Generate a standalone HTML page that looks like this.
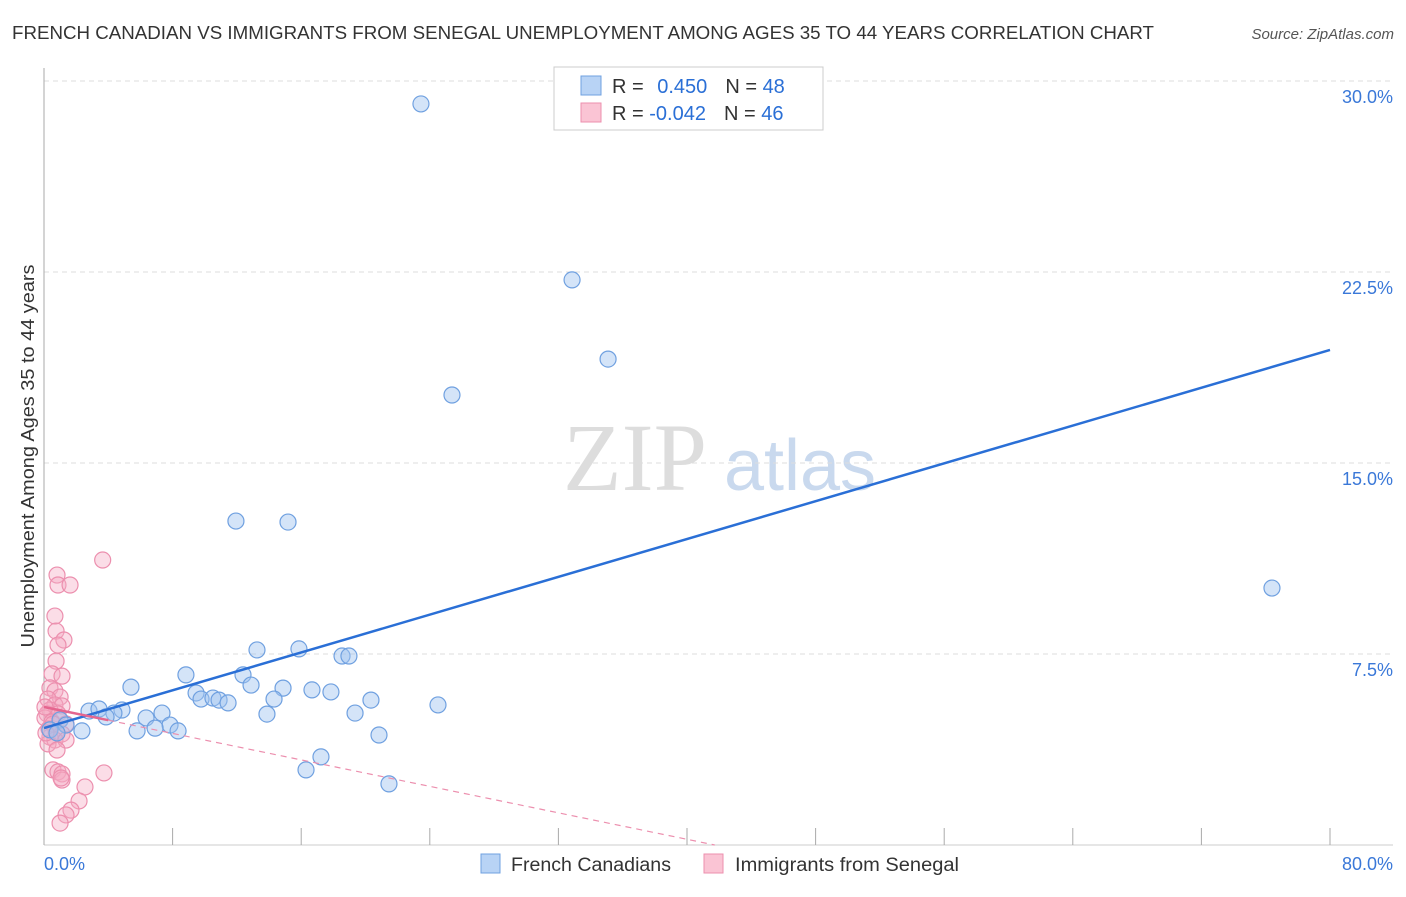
<!DOCTYPE html>
<html><head><meta charset="utf-8"><style>
body{margin:0;background:#fff;font-family:"Liberation Sans",sans-serif}
</style></head><body>
<svg id="c" width="1406" height="892" xmlns="http://www.w3.org/2000/svg" style="font-family:'Liberation Sans',sans-serif">
<text x="12" y="39" font-size="18" fill="#333" textLength="1142" lengthAdjust="spacingAndGlyphs">FRENCH CANADIAN VS IMMIGRANTS FROM SENEGAL UNEMPLOYMENT AMONG AGES 35 TO 44 YEARS CORRELATION CHART</text>
<text x="1394" y="39" font-size="15" fill="#555" text-anchor="end" font-style="italic">Source: ZipAtlas.com</text>
<text x="635" y="490" font-size="96" fill="#ddd" text-anchor="middle" font-family="Liberation Serif">ZIP</text>
<text x="800" y="490" font-size="72" fill="#c9d9ee" text-anchor="middle">atlas</text>
<text transform="translate(34,456) rotate(-90)" font-size="18" fill="#333" text-anchor="middle" textLength="383" lengthAdjust="spacingAndGlyphs">Unemployment Among Ages 35 to 44 years</text>
<g id="grid"></g><g id="pts"></g><g id="lines"></g>
<g>
<rect x="554" y="67" width="269" height="63" fill="#fff" stroke="#ccc"/>
<rect x="581" y="76" width="20" height="19" fill="#b8d3f5" stroke="#6fa0e0"/>
<rect x="581" y="103" width="20" height="19" fill="#fac4d4" stroke="#ec8fae"/>
<text x="612" y="93" font-size="20" fill="#333">R = <tspan fill="#2a6fd6" dx="8">0.450</tspan><tspan dx="18" fill="#333">N = </tspan><tspan fill="#2a6fd6">48</tspan></text>
<text x="612" y="120" font-size="20" fill="#333">R = <tspan fill="#2a6fd6">-0.042</tspan><tspan dx="18" fill="#333">N = </tspan><tspan fill="#2a6fd6">46</tspan></text>
</g>
<g>
<rect x="481" y="854" width="19" height="19" fill="#b8d3f5" stroke="#6fa0e0"/>
<text x="511" y="871" font-size="19" fill="#333" textLength="160" lengthAdjust="spacingAndGlyphs">French Canadians</text>
<rect x="704" y="854" width="19" height="19" fill="#fac4d4" stroke="#ec8fae"/>
<text x="735" y="871" font-size="19" fill="#333" textLength="224" lengthAdjust="spacingAndGlyphs">Immigrants from Senegal</text>
</g>
</svg>
<script>
const yTicks=[7.5,15,22.5,30];
const yTickLabels=["7.5%","15.0%","22.5%","30.0%"];
const xTicks=[0,8,16,24,32,40,48,56,64,72,80];
const blueX=[23.45,32.85,35.09,25.38,11.94,15.18,76.39,13.25,15.86,18.54,18.97,8.83,12.38,5.41,12.88,14.87,9.46,16.67,17.85,9.77,10.51,10.89,11.45,14.31,20.34,24.51,2.80,3.42,4.85,4.35,3.86,7.34,6.35,7.84,6.91,5.79,8.34,13.87,19.35,20.84,17.23,16.30,21.46,1.0,1.37,0.37,0.81,2.36];
const blueY=[29.10,22.19,19.08,17.67,12.72,12.68,10.09,7.66,7.70,7.42,7.42,6.68,6.68,6.20,6.28,6.16,5.97,6.09,6.01,5.73,5.77,5.69,5.58,5.73,5.69,5.50,5.26,5.34,5.30,5.18,5.03,5.18,4.99,4.71,4.59,4.48,4.48,5.14,5.18,4.32,3.46,2.95,2.40,4.91,4.71,4.52,4.40,4.48];
const pinkX=[3.65,0.81,0.87,1.62,0.68,0.75,1.24,0.87,0.75,0.50,1.12,0.37,0.68,1.0,0.25,0.68,1.12,0.37,0.19,0.87,0.06,0.50,1.0,1.37,0.31,0.75,1.12,0.37,0.68,1.37,0.25,0.81,0.56,0.87,1.12,1.12,3.73,1.06,2.55,2.18,1.68,1.37,1.0,0.06,0.56,0.12];
const pinkY=[11.19,10.60,10.21,10.21,8.99,8.40,8.05,7.85,7.22,6.72,6.63,6.17,6.05,5.81,5.73,5.50,5.46,5.30,5.15,5.15,4.99,4.83,4.91,4.75,4.56,4.44,4.36,4.24,4.12,4.12,3.97,3.73,2.95,2.87,2.79,2.55,2.83,2.63,2.28,1.73,1.37,1.18,0.86,5.42,4.75,4.40];
const blueFit=[4.59,19.44];
const pinkFit=[5.42,-0.1299];
const X=v=>44+v/80*1286, Y=v=>845-v/7.5*191;
const NS="http://www.w3.org/2000/svg";
function mk(t,a,p){const e=document.createElementNS(NS,t);for(const k in a)e.setAttribute(k,a[k]);p.appendChild(e);return e;}
const g=document.getElementById('grid');
yTicks.forEach((t,i)=>{
 const l=mk('line',{x1:44,x2:1393,y1:Y(t),y2:Y(t),stroke:'#ddd','stroke-dasharray':'5,4'},g);
 
 
 const tx=mk('text',{x:1393,y:Y(t)+22,'font-size':18,fill:'#3a78d8','text-anchor':'end'},g);
 tx.textContent=yTickLabels[i];
 
 
});
mk('line',{x1:44,x2:44,y1:68,y2:845,stroke:'#aaa'},g);
mk('line',{x1:44,x2:1393,y1:845,y2:845,stroke:'#ccc'},g);
xTicks.forEach(t=>{const l=mk('line',{x1:X(t),x2:X(t),y1:828,y2:845,stroke:'#aaa'},g);
 
 });
let a=mk('text',{x:44,y:870,'font-size':18,fill:'#3a78d8'},g);a.textContent="0.0%";


a=mk('text',{x:1393,y:870,'font-size':18,fill:'#3a78d8','text-anchor':'end'},g);a.textContent="80.0%";


const p=document.getElementById('pts');
pinkX.forEach((v,i)=>{const c=mk('circle',{cx:X(v),cy:Y(pinkY[i]),r:8,fill:'rgba(246,170,195,0.4)',stroke:'#ec8fae','stroke-width':1.2},p);
 
 });
blueX.forEach((v,i)=>{const c=mk('circle',{cx:X(v),cy:Y(blueY[i]),r:8,fill:'rgba(160,195,240,0.45)',stroke:'#6fa0e0','stroke-width':1.2},p);
 
 });
const L=document.getElementById('lines');
let b=mk('line',{x1:X(0),y1:Y(blueFit[0]),x2:X(80),y2:Y(blueFit[1]),stroke:'#2a6fd6','stroke-width':2.5},L);


const xz=-pinkFit[0]/pinkFit[1];
b=mk('line',{x1:X(4),y1:Y(pinkFit[0]+pinkFit[1]*4),x2:X(xz),y2:Y(0),stroke:'#ec8fae','stroke-width':1.2,'stroke-dasharray':'6,5'},L);


b=mk('line',{x1:X(0),y1:Y(pinkFit[0]),x2:X(4),y2:Y(pinkFit[0]+pinkFit[1]*4),stroke:'#e5668f','stroke-width':2.5},L);


</script>
</body></html>
